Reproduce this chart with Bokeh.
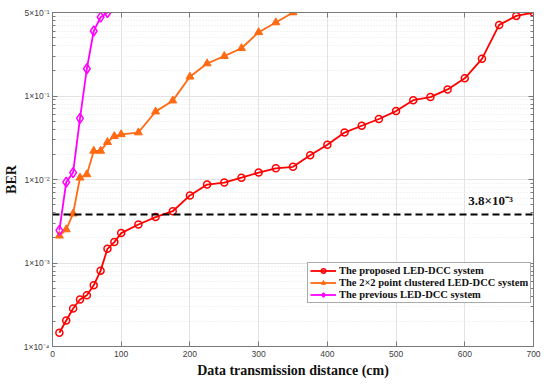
from bokeh.plotting import figure
from bokeh.models import (LogAxis, LinearAxis, FixedTicker, Span, Label, Legend,
                          LegendItem, Range1d)
from bokeh.embed import file_html
from bokeh.resources import INLINE

# ---------------- data ----------------
dist_proposed = [10, 20, 30, 40, 50, 60, 70, 80, 90, 100, 125, 150, 175, 200, 225, 250,
                 275, 300, 325, 350, 375, 400, 425, 450, 475, 500, 525, 550, 575, 600,
                 625, 650, 675, 700]
ber_proposed = [1.46e-4, 2.05e-4, 2.85e-4, 3.65e-4, 4.1e-4, 5.4e-4, 8.1e-4, 1.48e-3,
                1.78e-3, 2.28e-3, 2.89e-3, 3.55e-3, 4.17e-3, 6.45e-3, 8.7e-3, 9.2e-3,
                1.05e-2, 1.21e-2, 1.36e-2, 1.42e-2, 1.95e-2, 2.6e-2, 3.65e-2, 4.4e-2,
                5.3e-2, 6.6e-2, 8.9e-2, 9.7e-2, 0.12, 0.163, 0.279, 0.71, 0.91, 1.0]

dist_cluster = [10, 20, 30, 40, 50, 60, 70, 80, 90, 100, 125, 150, 175, 200, 225, 250,
                275, 300, 325, 350]
ber_cluster = [2.12e-3, 2.52e-3, 3.9e-3, 1.05e-2, 1.15e-2, 2.2e-2, 2.2e-2, 2.8e-2,
               3.3e-2, 3.47e-2, 3.65e-2, 6.5e-2, 8.8e-2, 0.17, 0.245, 0.3, 0.373, 0.58,
               0.76, 1.0]

dist_previous = [10, 20, 30, 40, 50, 60, 70, 80]
ber_previous = [2.46e-3, 9.3e-3, 1.21e-2, 5.4e-2, 0.212, 0.6, 0.88, 1.0]

threshold = 3.8e-3
threshold_label = "3.8×10⁻³"

series_names = ["The proposed LED-DCC system",
                "The 2×2 point clustered LED-DCC system",
                "The previous LED-DCC system"]

x_ticks = [0, 100, 200, 300, 400, 500, 600, 700]
y_ticks = [1e-4, 1e-3, 1e-2, 1e-1, 1e0]
y_tick_labels = ["1×10⁻⁴", "1×10⁻³", "1×10⁻²", "1×10⁻¹", "5×10⁻¹"]
y_minor = [m * t for t in y_ticks[:-1] for m in range(2, 10)]

x_label = "Data transmission distance (cm)"
y_label = "BER"

# ---------------- figure ----------------
AX = "#7a7a7a"
TICKC = "#404040"
SERIF = "Liberation Serif"

p = figure(frame_width=481, frame_height=334, y_axis_type="log",
           x_range=Range1d(0, 700), y_range=Range1d(1e-4, 1e0),
           toolbar_location=None, output_backend="svg",
           min_border_left=51, min_border_right=8, min_border_top=12,
           min_border_bottom=10)
p.background_fill_color = "white"
p.outline_line_color = AX

xt = FixedTicker(ticks=x_ticks)
yt = FixedTicker(ticks=y_ticks, minor_ticks=y_minor)

p.xaxis.ticker = xt
p.yaxis.ticker = yt
p.yaxis.major_label_overrides = {t: l for t, l in zip(y_ticks, y_tick_labels)}

for ax in (p.xaxis[0], p.yaxis[0]):
    ax.axis_line_color = AX
    ax.major_tick_line_color = AX
    ax.minor_tick_line_color = AX
    ax.major_tick_in = 5
    ax.major_tick_out = 0
    ax.minor_tick_in = 3
    ax.minor_tick_out = 0
    ax.major_label_text_font = "Liberation Sans"
    ax.major_label_text_font_size = "8.5px"
    ax.major_label_text_color = TICKC
    ax.axis_label_text_font = SERIF
    ax.axis_label_text_font_style = "bold"
    ax.axis_label_text_font_size = "14px"
    ax.axis_label_text_color = "#111111"
p.xaxis.minor_tick_line_color = None
p.xaxis.axis_label = x_label
p.xaxis.major_label_standoff = 4
p.xaxis.axis_label_standoff = 3
p.yaxis.axis_label = y_label
p.yaxis.major_label_standoff = 3
p.yaxis.axis_label_standoff = 2

top = LinearAxis(ticker=xt, major_label_text_font_size="1px", major_label_text_color=None,
                 major_label_standoff=0,
                 axis_line_color=AX, major_tick_line_color=AX, major_tick_in=5,
                 major_tick_out=0, minor_tick_line_color=None)
right = LogAxis(ticker=yt, major_label_text_font_size="1px", major_label_text_color=None,
                major_label_standoff=0,
                axis_line_color=AX, major_tick_line_color=AX, major_tick_in=5,
                major_tick_out=0, minor_tick_line_color=AX, minor_tick_in=3,
                minor_tick_out=0)
p.add_layout(top, "above")
p.add_layout(right, "right")

p.xgrid.grid_line_color = "#e3e3e3"
p.ygrid.grid_line_color = "#e3e3e3"
p.ygrid.minor_grid_line_color = "#e8e8e8"
p.ygrid.minor_grid_line_dash = "1 2"

# threshold
p.add_layout(Span(location=threshold, dimension="width", line_color="black",
                  line_width=2, line_dash="7 4"))
p.add_layout(Label(x=605, y=threshold, y_offset=7, text=threshold_label,
                   text_font=SERIF, text_font_style="bold", text_font_size="13px",
                   text_color="#111111", text_baseline="bottom"))

# series
r1l = p.line(dist_proposed, ber_proposed, line_color="#ff0000", line_width=1.8)
r1s = p.scatter(dist_proposed, ber_proposed, marker="circle", size=7,
                line_color="#ff0000", line_width=1.5, fill_color=None)
r2l = p.line(dist_cluster, ber_cluster, line_color="#ff6a13", line_width=1.8)
r2s = p.scatter(dist_cluster, ber_cluster, marker="triangle", size=8,
                line_color="#ff6a13", fill_color="#ff6a13")
r3l = p.line(dist_previous, ber_previous, line_color="#ff00ff", line_width=1.8)
r3s = p.scatter(dist_previous, ber_previous, marker="diamond", size=10,
                line_color="#ff00ff", line_width=1.5, fill_color=None)

legend = Legend(items=[LegendItem(label=series_names[0], renderers=[r1l, r1s]),
                       LegendItem(label=series_names[1], renderers=[r2l, r2s]),
                       LegendItem(label=series_names[2], renderers=[r3l, r3s])],
                location=(255, 43))
legend.label_text_font = SERIF
legend.label_text_font_style = "bold"
legend.label_text_font_size = "10.5px"
legend.label_text_color = "#111111"
legend.label_height = 11
legend.glyph_height = 11
legend.glyph_width = 26
legend.label_standoff = 3
legend.spacing = 1
legend.padding = 2
legend.margin = 0
legend.border_line_color = "#555555"
legend.border_line_width = 1
legend.background_fill_alpha = 1
p.add_layout(legend)

open("out.html", "w").write(file_html(p, INLINE))
